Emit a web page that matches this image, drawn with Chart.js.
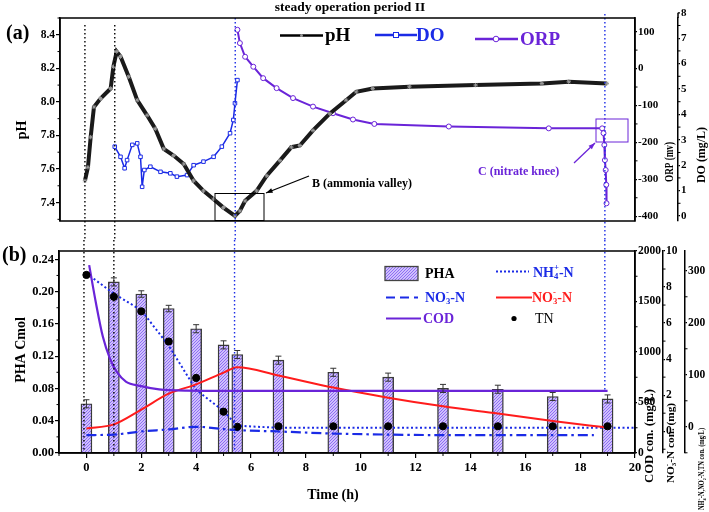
<!DOCTYPE html>
<html><head><meta charset="utf-8">
<script src="https://cdn.jsdelivr.net/npm/chart.js"></script>
<style>
body{margin:0;background:#fff;width:709px;height:512px;overflow:hidden;position:relative}
canvas{position:absolute;left:0}
#ca{top:0}#cb{top:240px}
</style></head><body>
<canvas id="ca" width="709" height="240"></canvas>
<canvas id="cb" width="709" height="272"></canvas>
<script>
const FONT = "'Liberation Serif','Times New Roman',serif";
const BLUE = '#1b2be6', PURPLE = '#6a24d8', RED = '#ff1c1c';

// ---------- panel (a) data ----------
const phT = [-0.09,0.02,0.12,0.24,0.48,0.85,0.95,1.07,1.21,1.51,1.82,2.18,2.48,2.79,3.15,3.52,3.88,4.24,4.61,4.97,5.39,5.57,5.76,6.18,6.55,7.03,7.45,7.76,8.24,8.85,9.45,9.82,10.42,11.76,14.18,16.6,17.58,18.97];
const phV = [7.53,7.61,7.79,7.97,8.02,8.08,8.21,8.30,8.27,8.15,8.01,7.92,7.84,7.72,7.68,7.63,7.53,7.47,7.42,7.37,7.32,7.35,7.41,7.47,7.56,7.65,7.73,7.74,7.83,7.93,8.01,8.06,8.08,8.09,8.10,8.11,8.12,8.11];
const doT = [1.0,1.21,1.36,1.45,1.64,1.82,1.94,2.0,2.08,2.3,2.67,3.03,3.27,3.64,3.88,4.24,4.61,4.91,5.21,5.33,5.39,5.48];
const doV = [2.73,2.33,1.88,2.2,2.8,2.86,2.33,1.15,1.81,1.94,1.74,1.68,1.55,1.61,2.0,2.14,2.33,2.73,3.26,3.78,4.44,5.35];
const orpT = [5.48,5.57,5.76,6.06,6.42,6.91,7.51,8.24,8.97,9.7,10.48,13.2,16.85,18.8,18.85,18.88,18.9,18.93,18.95,18.96];
const orpV = [105,69,32,5,-26,-53,-80,-103,-121,-138,-150,-157,-162,-162,-175,-207,-248,-275,-315,-365];
const phTicks = [7.4,7.6,7.8,8.0,8.2,8.4];
const orpTicks = [-400,-300,-200,-100,0,100];
const doTicks = [0,1,2,3,4,5,6,7];

// ---------- panel (b) data ----------
const phaT = [0,1,2,3,4,5,5.5,7,9,11,13,15,17,19];
const phaV = [0.061,0.212,0.197,0.179,0.154,0.134,0.122,0.115,0.100,0.094,0.080,0.079,0.070,0.067];
const phaErr = [0.005,0.005,0.004,0.004,0.005,0.005,0.005,0.005,0.005,0.005,0.005,0.005,0.005,0.005];
const codT = [0.1,0.35,0.6,0.85,1.1,1.45,1.95,2.65,3.65,5,7,9,11,13,15,17,19];
const codV = [1860,1480,1150,940,805,705,665,630,617,615,615,615,615,615,615,615,615];
const no3T = [0,1,2,3,4,5,5.5,7,9,11,13,15,17,19];
const no3V = [0.15,0.38,1.2,2.08,2.6,3.25,3.55,3.09,2.42,1.86,1.38,0.98,0.57,0.2];
const nh4T = [0,1,2,3,4,5,5.5,7,9,11,13,15,17,19,20];
const nh4V = [295,256,224,156,71,30,2,-2,-2,-2,-2,-2,-2,-2,-2];
const no2T = [0,1,2,3,4,5,5.5,7,9,11,13,15,17,18.5];
const no2V = [-16,-15,-9,-5,0,-4.5,-6.4,-9,-13,-15,-16,-16,-16,-16];
const tnT = [0,1,2,3,4,5,5.5,7,9,11,13,15,17,19];
const tnV = [292,250,222,164,94,29,0,1,1,1,1,1,1,1];
const timeTicks = [0,2,4,6,8,10,12,14,16,18,20];
const phaTicks = [0,0.04,0.08,0.12,0.16,0.20,0.24];
const codTicks = [0,500,1000,1500,2000];
const no3Ticks = [0,2,4,6,8,10];
const nTicks = [0,100,200,300];

const pts = (t, v) => t.map((x, i) => ({x, y: v[i]}));

function layoutRich(ctx, parts, size, weight) {
  let cx = 0, lastSub = null; const out = [];
  for (const p of parts) {
    const small = p.m === 'sub' || p.m === 'sup';
    const s = small ? size * 0.62 : size;
    const f = `${weight} ${s}px ${FONT}`;
    ctx.font = f;
    const w = ctx.measureText(p.t).width;
    let px = cx;
    if (p.m === 'sup' && lastSub) px = lastSub.x;
    const dy = p.m === 'sub' ? size * 0.3 : p.m === 'sup' ? -size * 0.36 : 0;
    out.push({t: p.t, x: px, dy, f});
    if (p.m === 'sup' && lastSub) { cx = lastSub.x + Math.max(lastSub.w, w); lastSub = null; }
    else { cx = px + w; lastSub = p.m === 'sub' ? {x: px, w} : null; }
  }
  return {out, total: cx};
}
function rich(ctx, parts, x, y, size, weight, color, align) {
  const L = layoutRich(ctx, parts, size, weight);
  const off = align === 'center' ? -L.total / 2 : 0;
  ctx.fillStyle = color; ctx.textBaseline = 'middle'; ctx.textAlign = 'left';
  for (const o of L.out) { ctx.font = o.f; ctx.fillText(o.t, x + o.x + off, y + o.dy); }
  return L.total;
}
function vtext(ctx, parts, cx, cy, size, weight, color, len) {
  ctx.save(); ctx.translate(cx, cy); ctx.rotate(-Math.PI / 2);
  if (len) { const L = layoutRich(ctx, parts, size, weight); ctx.scale(len / L.total, 1); }
  rich(ctx, parts, 0, 0, size, weight, color, 'center');
  ctx.restore();
}
function arrow(ctx, x1, y1, x2, y2, color) {
  ctx.save(); ctx.strokeStyle = color; ctx.fillStyle = color; ctx.lineWidth = 1.3;
  ctx.beginPath(); ctx.moveTo(x1, y1); ctx.lineTo(x2, y2); ctx.stroke();
  const a = Math.atan2(y2 - y1, x2 - x1), L = 7;
  ctx.beginPath(); ctx.moveTo(x2, y2);
  ctx.lineTo(x2 - L * Math.cos(a - 0.35), y2 - L * Math.sin(a - 0.35));
  ctx.lineTo(x2 - L * Math.cos(a + 0.35), y2 - L * Math.sin(a + 0.35));
  ctx.closePath(); ctx.fill(); ctx.restore();
}

function yScale(pos, min, max, ticks, width, fmt, size) {
  return {
    type: 'linear', position: pos, min, max,
    afterBuildTicks: s => { s.ticks = ticks.map(v => ({value: v})); },
    afterFit: s => { s.width = width; },
    border: {display: true, color: '#000', width: 1.5},
    grid: {display: true, drawOnChartArea: false, drawTicks: true, tickLength: pos === 'left' ? 4 : 2, color: '#000', tickColor: '#000', lineWidth: 1.2},
    ticks: {color: '#000', font: {family: FONT, size: size, weight: 'bold'}, padding: 1, autoSkip: false, maxRotation: 0, callback: fmt}
  };
}

function minorPlugin(cfg) {
  return {
    id: 'minor',
    afterDraw(chart) {
      const ctx = chart.ctx; ctx.save(); ctx.strokeStyle = '#000'; ctx.lineWidth = 1;
      for (const id in cfg) {
        const s = chart.scales[id]; const step = cfg[id];
        const majors = s.ticks.map(t => t.value);
        const k0 = Math.ceil(s.min / step - 1e-9), k1 = Math.floor(s.max / step + 1e-9);
        for (let k = k0; k <= k1; k++) {
          const v = k * step;
          if (majors.some(m => Math.abs(m - v) < step * 1e-3)) continue;
          const p = s.getPixelForValue(v);
          ctx.beginPath();
          if (s.position === 'left') { ctx.moveTo(s.right - 2.5, p); ctx.lineTo(s.right, p); }
          else if (s.position === 'right') { ctx.moveTo(s.left, p); ctx.lineTo(s.left + 2.5, p); }
          else { ctx.moveTo(p, s.top); ctx.lineTo(p, s.top + 3); }
          ctx.stroke();
        }
      }
      ctx.restore();
    }
  };
}
function vlinesPlugin(lines) {
  return {
    id: 'vlines',
    afterDatasetsDraw(chart) {
      const ctx = chart.ctx, x = chart.scales.x; ctx.save();
      for (const l of lines) {
        const px = x.getPixelForValue(l.x);
        ctx.strokeStyle = l.c; ctx.lineWidth = 1.4; ctx.setLineDash([1.4, 2.6]);
        ctx.beginPath(); ctx.moveTo(px, l.y0); ctx.lineTo(px, l.y1); ctx.stroke();
      }
      ctx.restore();
    }
  };
}
const framePlugin = {
  id: 'frame',
  afterDraw(chart) {
    const a = chart.chartArea, ctx = chart.ctx; ctx.save();
    ctx.strokeStyle = '#000'; ctx.lineWidth = 1.5;
    ctx.strokeRect(a.left, a.top, a.right - a.left, a.bottom - a.top);
    ctx.restore();
  }
};

// ---------------- chart (a) ----------------
const topDecor = {
  id: 'topDecor',
  afterDraw(chart) {
    const ctx = chart.ctx;
    ctx.save();
    ctx.fillStyle = '#000'; ctx.textAlign = 'center'; ctx.textBaseline = 'middle';
    ctx.font = `bold 13.5px ${FONT}`; ctx.fillText('steady operation period II', 350, 8);
    ctx.textAlign = 'left'; ctx.font = `bold 20px ${FONT}`; ctx.fillText('(a)', 6, 34);
    vtext(ctx, [{t: 'pH'}], 22, 130, 14, 'bold', '#000');
    vtext(ctx, [{t: 'ORP (mv)'}], 670, 162, 11.5, 'bold', '#000', 40);
    vtext(ctx, [{t: 'DO (mg/L)'}], 702, 155, 12, 'bold', '#000', 56);
    // DO axis extension to 8
    const sd = chart.scales.yDO; const y8 = sd.getPixelForValue(8);
    ctx.strokeStyle = '#000'; ctx.lineWidth = 1.5;
    ctx.beginPath(); ctx.moveTo(sd.left, sd.top); ctx.lineTo(sd.left, y8); ctx.stroke();
    ctx.lineWidth = 1.2; ctx.beginPath(); ctx.moveTo(sd.left, y8); ctx.lineTo(sd.left + 2, y8); ctx.stroke();
    ctx.font = `bold 11px ${FONT}`; ctx.textAlign = 'left'; ctx.fillText('8', sd.left + 3, y8);
    // legend
    ctx.lineWidth = 2.5; ctx.strokeStyle = '#000';
    ctx.beginPath(); ctx.moveTo(280, 35.5); ctx.lineTo(323, 35.5); ctx.stroke();
    ctx.fillStyle = '#999'; ctx.beginPath(); ctx.arc(301.5, 35.5, 1.5, 0, 7); ctx.fill();
    ctx.fillStyle = '#000'; ctx.font = `bold 19px ${FONT}`; ctx.fillText('pH', 325, 36);
    ctx.strokeStyle = BLUE; ctx.beginPath(); ctx.moveTo(375, 35); ctx.lineTo(417, 35); ctx.stroke();
    ctx.fillStyle = '#fff'; ctx.lineWidth = 1; ctx.fillRect(393.5, 32.5, 5, 5); ctx.strokeRect(393.5, 32.5, 5, 5);
    ctx.fillStyle = BLUE; ctx.fillText('DO', 416, 36);
    ctx.lineWidth = 2.5; ctx.strokeStyle = PURPLE; ctx.beginPath(); ctx.moveTo(475, 39); ctx.lineTo(518, 39); ctx.stroke();
    ctx.fillStyle = '#fff'; ctx.lineWidth = 1; ctx.beginPath(); ctx.arc(496, 39, 2.8, 0, 7); ctx.fill(); ctx.stroke();
    ctx.fillStyle = PURPLE; ctx.fillText('ORP', 520, 40);
    // annotation B
    ctx.strokeStyle = '#000'; ctx.lineWidth = 1;
    ctx.strokeRect(215, 193.5, 49, 27);
    arrow(ctx, 309, 176, 266, 193, '#000');
    ctx.fillStyle = '#000'; ctx.font = `bold 12px ${FONT}`; ctx.fillText('B (ammonia valley)', 312, 184);
    // annotation C
    ctx.strokeStyle = PURPLE; ctx.lineWidth = 1;
    ctx.strokeRect(596, 119, 32, 23);
    arrow(ctx, 574, 163, 595, 143, PURPLE);
    ctx.fillStyle = PURPLE; ctx.font = `bold 12px ${FONT}`; ctx.fillText('C (nitrate knee)', 478, 172);
    ctx.restore();
  }
};

new Chart(document.getElementById('ca'), {
  type: 'line',
  data: {datasets: [
    {label: 'pH', data: pts(phT, phV), yAxisID: 'yPH', borderColor: '#1a1a1a', borderWidth: 4, tension: 0,
     pointStyle: 'star', pointRadius: 2.2, pointBorderColor: '#999', pointBorderWidth: 1},
    {label: 'DO', data: pts(doT, doV), yAxisID: 'yDO', borderColor: BLUE, borderWidth: 1.5, tension: 0,
     pointStyle: 'rect', pointRadius: 2.5, pointBackgroundColor: '#fff', pointBorderColor: BLUE, pointBorderWidth: 1},
    {label: 'ORP', data: pts(orpT, orpV), yAxisID: 'yORP', borderColor: PURPLE, borderWidth: 2, tension: 0,
     pointStyle: 'circle', pointRadius: 2.5, pointBackgroundColor: '#fff', pointBorderColor: PURPLE, pointBorderWidth: 1}
  ]},
  options: {
    responsive: false, animation: false, devicePixelRatio: 1,
    layout: {padding: {top: 18, bottom: 19, left: 0, right: 0}, autoPadding: false},
    plugins: {legend: {display: false}, tooltip: {enabled: false}},
    scales: {
      x: {type: 'linear', min: -1, max: 20, display: false},
      yPH: yScale('left', 7.29, 8.50, phTicks, 60, v => v.toFixed(1), 11.5),
      yORP: yScale('right', -413, 137, orpTicks, 43, v => String(v), 11),
      yDO: yScale('right', -0.197, 7.795, doTicks, 31, v => String(v), 11)
    }
  },
  plugins: [framePlugin, minorPlugin({yPH: 0.1, yORP: 50, yDO: 0.5}),
    vlinesPlugin([{x: -0.09, c: '#000', y0: 25, y1: 240}, {x: 1.0, c: '#000', y0: 25, y1: 240},
                  {x: 5.4, c: BLUE, y0: 18, y1: 240}, {x: 18.9, c: BLUE, y0: 14, y1: 240}]), topDecor]
});

// ---------------- chart (b) ----------------
const cb = document.getElementById('cb');
function hatch(target) {
  const c = document.createElement('canvas'); c.width = 3; c.height = 3;
  const g = c.getContext('2d');
  g.fillStyle = '#ebe4ff'; g.fillRect(0, 0, 3, 3);
  g.strokeStyle = '#8a68f4'; g.lineWidth = 1.1;
  g.beginPath(); g.moveTo(0, 3); g.lineTo(3, 0); g.moveTo(-1, 1); g.lineTo(1, -1); g.moveTo(2, 4); g.lineTo(4, 2); g.stroke();
  return target.getContext('2d').createPattern(c, 'repeat');
}
const pattern = hatch(cb);

const botDecor = {
  id: 'botDecor',
  afterDatasetsDraw(chart) {
    const ctx = chart.ctx, x = chart.scales.x, y = chart.scales.yPHA;
    ctx.save(); ctx.strokeStyle = '#333'; ctx.lineWidth = 1;
    phaT.forEach((t, i) => {
      const px = x.getPixelForValue(t);
      const a = y.getPixelForValue(phaV[i] + phaErr[i]), b = y.getPixelForValue(phaV[i] - phaErr[i]);
      ctx.beginPath(); ctx.moveTo(px, a); ctx.lineTo(px, b);
      ctx.moveTo(px - 3, a); ctx.lineTo(px + 3, a); ctx.moveTo(px - 3, b); ctx.lineTo(px + 3, b); ctx.stroke();
    });
    ctx.restore();
  },
  afterDraw(chart) {
    const ctx = chart.ctx;
    ctx.save();
    ctx.fillStyle = '#000'; ctx.textBaseline = 'middle'; ctx.textAlign = 'left';
    ctx.font = `bold 20px ${FONT}`; ctx.fillText('(b)', 2, 16);
    vtext(ctx, [{t: 'PHA Cmol'}], 21, 110, 14, 'bold', '#000');
    ctx.textAlign = 'center'; ctx.font = `bold 14px ${FONT}`; ctx.fillText('Time (h)', 333, 255);
    vtext(ctx, [{t: 'COD con. (mg/L)'}], 650, 196, 12, 'bold', '#000', 94);
    vtext(ctx, [{t: 'NO'}, {t: '3', m: 'sub'}, {t: '-', m: 'sup'}, {t: '-N con. (mg)'}], 671, 203, 11, 'bold', '#000', 80);
    vtext(ctx, [{t: 'NH'}, {t: '4', m: 'sub'}, {t: '+', m: 'sup'}, {t: '-N,NO'}, {t: '2', m: 'sub'}, {t: '-', m: 'sup'}, {t: '-N,TN con. (mg/L)'}], 702, 229, 8, 'bold', '#000', 82);
    // legend
    ctx.fillStyle = pattern; ctx.fillRect(385, 26.5, 33, 14);
    ctx.strokeStyle = '#444'; ctx.lineWidth = 1.3; ctx.strokeRect(385, 26.5, 33, 14);
    ctx.fillStyle = '#000'; ctx.font = `bold 14px ${FONT}`; ctx.textAlign = 'left'; ctx.fillText('PHA', 425, 34);
    ctx.strokeStyle = BLUE; ctx.lineWidth = 2; ctx.setLineDash([2, 2]);
    ctx.beginPath(); ctx.moveTo(496, 31.5); ctx.lineTo(529, 31.5); ctx.stroke();
    ctx.setLineDash([]);
    rich(ctx, [{t: 'NH'}, {t: '4', m: 'sub'}, {t: '+', m: 'sup'}, {t: '-N'}], 533, 33, 14, 'bold', BLUE, 'left');
    ctx.strokeStyle = BLUE; ctx.lineWidth = 2.2; ctx.setLineDash([9, 5]);
    ctx.beginPath(); ctx.moveTo(386, 57.5); ctx.lineTo(418, 57.5); ctx.stroke();
    ctx.setLineDash([]);
    rich(ctx, [{t: 'NO'}, {t: '3', m: 'sub'}, {t: '-', m: 'sup'}, {t: '-N'}], 425, 58, 14, 'bold', BLUE, 'left');
    ctx.strokeStyle = RED; ctx.lineWidth = 2;
    ctx.beginPath(); ctx.moveTo(496, 57.5); ctx.lineTo(532, 57.5); ctx.stroke();
    rich(ctx, [{t: 'NO'}, {t: '3', m: 'sub'}, {t: '-', m: 'sup'}, {t: '-N'}], 532, 58, 14, 'bold', RED, 'left');
    ctx.strokeStyle = PURPLE; ctx.lineWidth = 2.2;
    ctx.beginPath(); ctx.moveTo(386, 78.5); ctx.lineTo(421, 78.5); ctx.stroke();
    ctx.fillStyle = PURPLE; ctx.font = `bold 14px ${FONT}`; ctx.fillText('COD', 423, 79);
    ctx.fillStyle = '#000'; ctx.beginPath(); ctx.arc(514, 78.5, 2.6, 0, 7); ctx.fill();
    ctx.font = `14px ${FONT}`; ctx.fillText('TN', 535, 79);
    ctx.restore();
  }
};

new Chart(cb, {
  type: 'bar',
  data: {datasets: [
    {type: 'line', label: 'TN', data: pts(tnT, tnV), yAxisID: 'yN', showLine: false,
     pointRadius: 3.6, pointBackgroundColor: '#000', pointBorderColor: '#000', order: 0},
    {type: 'line', label: 'COD', data: pts(codT, codV), yAxisID: 'yCOD', borderColor: PURPLE, borderWidth: 2.2,
     cubicInterpolationMode: 'monotone', pointRadius: 0, order: 1},
    {type: 'line', label: 'NO3-N red', data: pts(no3T, no3V), yAxisID: 'yNO3', borderColor: RED, borderWidth: 2,
     cubicInterpolationMode: 'monotone', pointRadius: 0, order: 2},
    {type: 'line', label: 'NH4-N', data: pts(nh4T, nh4V), yAxisID: 'yN', borderColor: BLUE, borderWidth: 2,
     borderDash: [2, 2.5], tension: 0, pointRadius: 0, order: 3},
    {type: 'line', label: 'NO3-N blue', data: pts(no2T, no2V), yAxisID: 'yN', borderColor: BLUE, borderWidth: 2.2,
     borderDash: [10, 4, 2.5, 4], cubicInterpolationMode: 'monotone', pointRadius: 0, order: 4},
    {type: 'bar', label: 'PHA', data: pts(phaT, phaV), yAxisID: 'yPHA', backgroundColor: pattern,
     borderColor: '#3a3a3a', borderWidth: 1.4, barThickness: 11, order: 10}
  ]},
  options: {
    responsive: false, animation: false, devicePixelRatio: 1,
    layout: {padding: {top: 11, bottom: 0, left: 0, right: 0}, autoPadding: false},
    plugins: {legend: {display: false}, tooltip: {enabled: false}},
    scales: {
      x: {type: 'linear', position: 'bottom', min: -1, max: 20, offset: false,
          afterBuildTicks: s => { s.ticks = timeTicks.map(v => ({value: v})); },
          afterFit: s => { s.height = 59; },
          border: {display: true, color: '#000', width: 1.5},
          grid: {display: true, drawOnChartArea: false, drawTicks: true, tickLength: 5, color: '#000', offset: false, lineWidth: 1.2},
          ticks: {color: '#000', font: {family: FONT, size: 12.5, weight: 'bold'}, padding: 2, autoSkip: false, maxRotation: 0}},
      yPHA: yScale('left', 0, 0.2503, phaTicks, 59, v => v.toFixed(2), 12.5),
      yCOD: yScale('right', 0, 2000, codTicks, 28, v => String(v), 11.5),
      yNO3: yScale('right', -1.21, 10, no3Ticks, 22, v => String(v), 11.5),
      yN: yScale('right', -50.4, 338, nTicks, 24, v => String(v), 11.5)
    }
  },
  plugins: [framePlugin, minorPlugin({x: 1, yPHA: 0.02, yCOD: 250, yNO3: 1, yN: 50}),
    vlinesPlugin([{x: -0.09, c: '#000', y0: 0, y1: 213}, {x: 1.0, c: '#000', y0: 0, y1: 213},
                  {x: 5.4, c: BLUE, y0: 0, y1: 213}, {x: 18.9, c: BLUE, y0: 0, y1: 151}]), botDecor]
});
</script>
</body></html>
